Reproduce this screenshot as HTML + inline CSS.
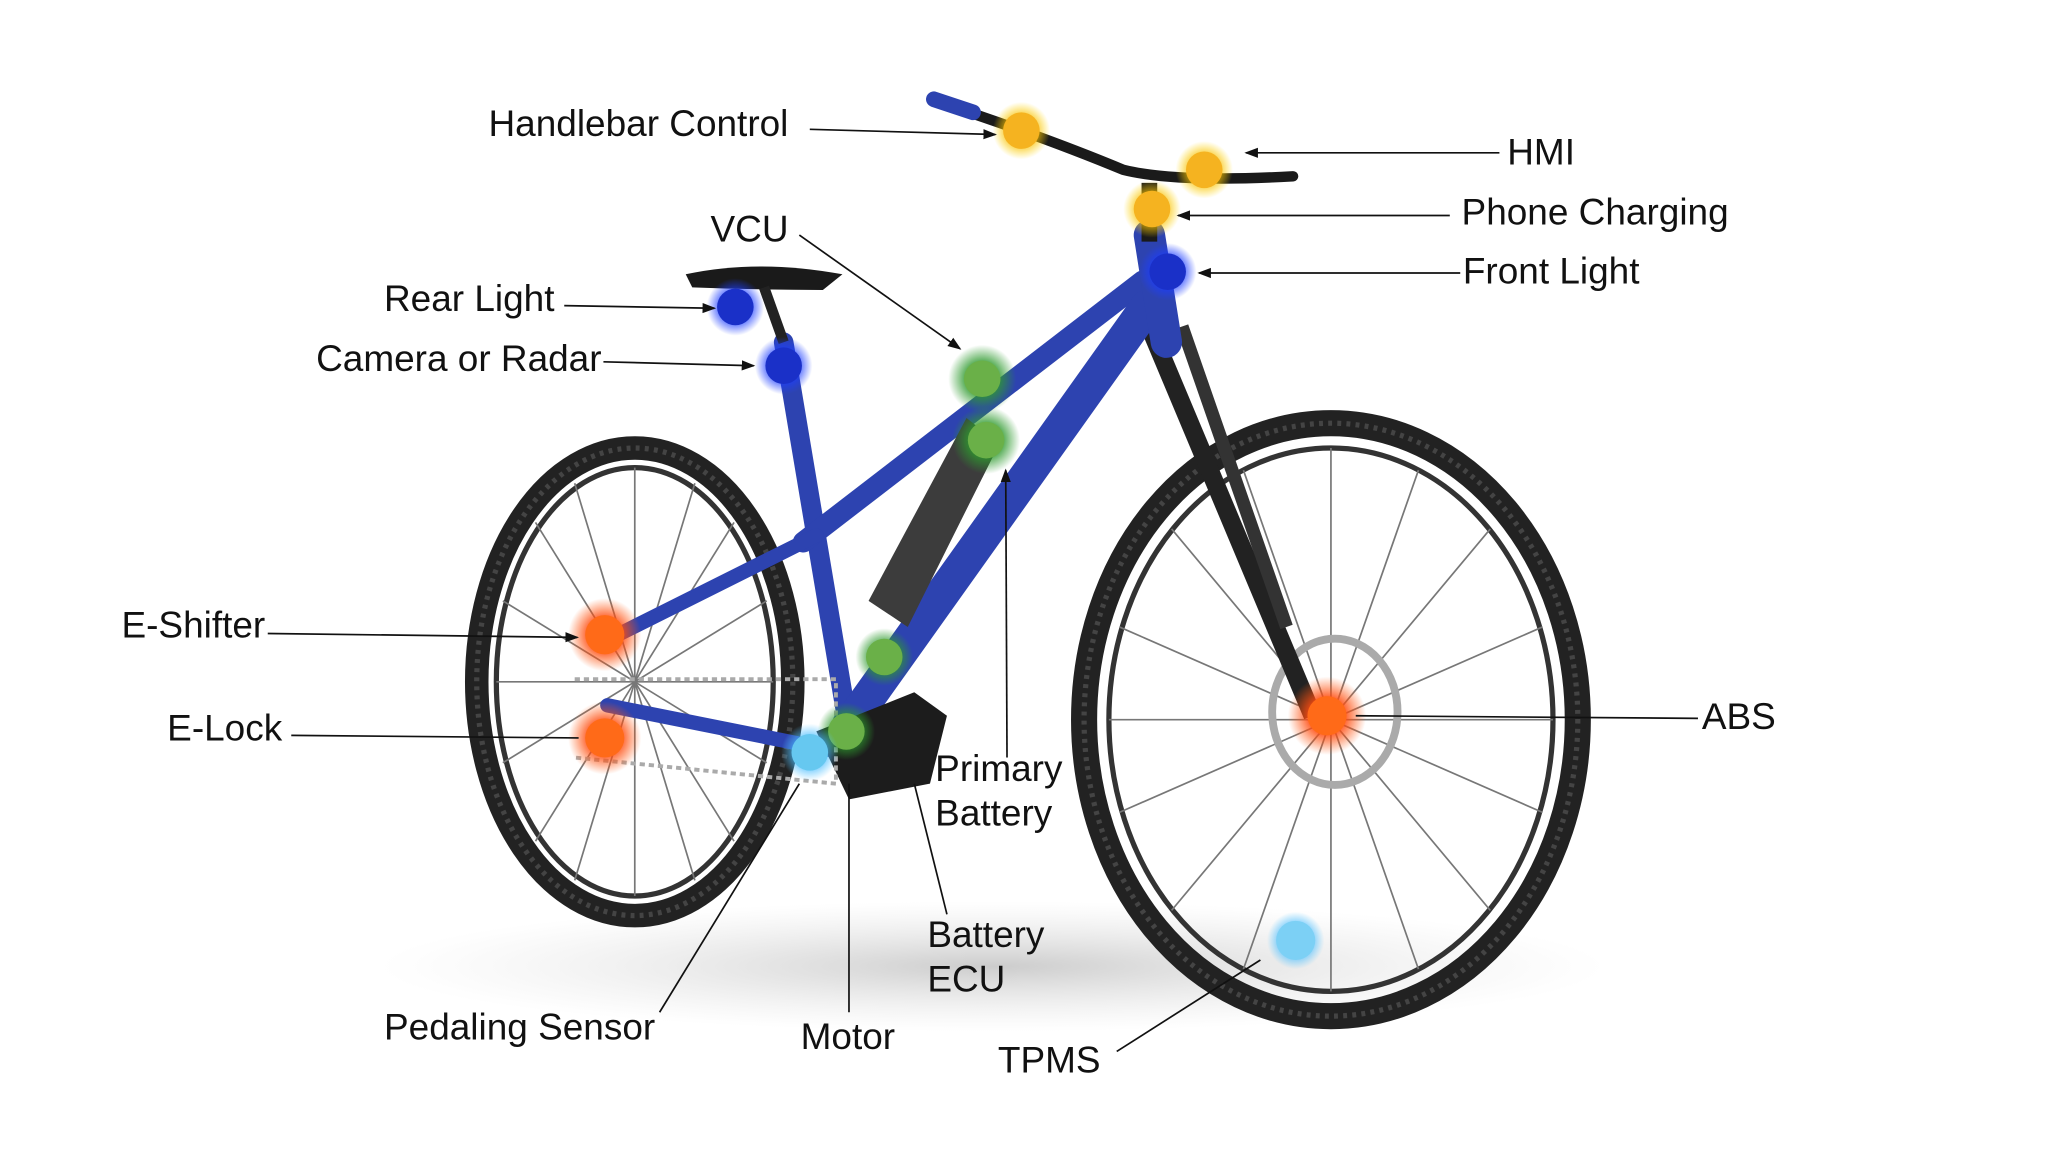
<!DOCTYPE html>
<html><head><meta charset="utf-8"><style>
html,body{margin:0;padding:0;background:#fff;width:2048px;height:1152px;overflow:hidden}
svg{display:block}
text{font-family:"Liberation Sans",Arial,sans-serif;font-size:28.3px;fill:#111}
</style></head><body>
<svg width="2048" height="1152" viewBox="0 0 1568 882" preserveAspectRatio="none">
<defs>
<radialGradient id="gy"><stop offset="0.45" stop-color="#f5b800" stop-opacity="0.9"/><stop offset="1" stop-color="#ffd800" stop-opacity="0"/></radialGradient>
<radialGradient id="gb"><stop offset="0.45" stop-color="#1a3cff" stop-opacity="0.9"/><stop offset="1" stop-color="#2040ff" stop-opacity="0"/></radialGradient>
<radialGradient id="gg"><stop offset="0.45" stop-color="#2e9a2e" stop-opacity="0.9"/><stop offset="1" stop-color="#2e9a2e" stop-opacity="0"/></radialGradient>
<radialGradient id="go"><stop offset="0.45" stop-color="#ff4a10" stop-opacity="0.9"/><stop offset="1" stop-color="#ff5a10" stop-opacity="0"/></radialGradient>
<radialGradient id="gc"><stop offset="0.45" stop-color="#40b8ff" stop-opacity="0.9"/><stop offset="1" stop-color="#60c8ff" stop-opacity="0"/></radialGradient>
<radialGradient id="sh"><stop offset="0" stop-color="#999" stop-opacity="0.5"/><stop offset="1" stop-color="#ccc" stop-opacity="0"/></radialGradient>
<marker id="a" markerWidth="8" markerHeight="8" refX="7" refY="4" orient="auto"><path d="M0,1 L8,4 L0,7 z" fill="#111"/></marker>
</defs>
<ellipse cx="760" cy="740" rx="470" ry="50" fill="url(#sh)"/>
<ellipse cx="486" cy="522" rx="121" ry="179" fill="none" stroke="#222" stroke-width="18"/>
<ellipse cx="486" cy="522" rx="121" ry="179" fill="none" stroke="#444" stroke-width="4" stroke-dasharray="3 4"/>
<ellipse cx="486" cy="522" rx="106" ry="164" fill="none" stroke="#333" stroke-width="4"/>
<g stroke="#777" stroke-width="1.3">
<line x1="486" y1="358" x2="486" y2="686"/><line x1="380" y1="522" x2="592" y2="522"/>
<line x1="410" y1="400" x2="562" y2="644"/><line x1="562" y1="400" x2="410" y2="644"/>
<line x1="440" y1="370" x2="532" y2="674"/><line x1="532" y1="370" x2="440" y2="674"/>
<line x1="385" y1="460" x2="587" y2="584"/><line x1="587" y1="460" x2="385" y2="584"/>
</g>
<ellipse cx="1019" cy="551" rx="189" ry="227" fill="none" stroke="#222" stroke-width="20"/>
<ellipse cx="1019" cy="551" rx="189" ry="227" fill="none" stroke="#444" stroke-width="4" stroke-dasharray="3 4"/>
<ellipse cx="1019" cy="551" rx="170" ry="208" fill="none" stroke="#333" stroke-width="4"/>
<g stroke="#777" stroke-width="1.3">
<line x1="1019" y1="343" x2="1019" y2="759"/><line x1="849" y1="551" x2="1189" y2="551"/>
<line x1="897" y1="405" x2="1141" y2="697"/><line x1="1141" y1="405" x2="897" y2="697"/>
<line x1="952" y1="360" x2="1086" y2="742"/><line x1="1086" y1="360" x2="952" y2="742"/>
<line x1="857" y1="480" x2="1181" y2="622"/><line x1="1181" y1="480" x2="857" y2="622"/>
</g>
<ellipse cx="1022" cy="545" rx="48" ry="56" fill="none" stroke="#aaa" stroke-width="6"/>
<line x1="880" y1="250" x2="1005" y2="548" stroke="#222" stroke-width="14"/>
<line x1="905" y1="250" x2="985" y2="480" stroke="#333" stroke-width="10"/>
<g stroke="#2d43b0" stroke-linecap="round" fill="none">
<path d="M600,262 L650,560" stroke-width="15"/>
<path d="M615,415 L875,215" stroke-width="16"/>
<path d="M650,555 L878,235" stroke-width="26"/>
<path d="M880,180 L893,262" stroke-width="24"/>
<path d="M465,490 L625,410" stroke-width="11"/>
<path d="M465,540 L640,575" stroke-width="11"/>
</g>
<path d="M665,460 L740,320 L765,340 L695,480 z" fill="#3c3c3c"/>
<path d="M625,560 L700,530 L725,548 L712,600 L650,612 z" fill="#1c1c1c"/>
<path d="M440,520 L640,520 L640,600 L440,580" fill="none" stroke="#aaa" stroke-width="3" stroke-dasharray="4 3"/>
<path d="M525,210 Q580,198 645,210 L630,222 Q580,222 530,220 z" fill="#1a1a1a"/>
<line x1="585" y1="220" x2="600" y2="262" stroke="#222" stroke-width="8"/>
<path d="M718,78 Q800,105 860,130 Q900,140 990,135" fill="none" stroke="#1a1a1a" stroke-width="8" stroke-linecap="round"/>
<line x1="715" y1="76" x2="745" y2="86" stroke="#2d43b0" stroke-width="12" stroke-linecap="round"/>
<line x1="880" y1="140" x2="880" y2="185" stroke="#1a1a1a" stroke-width="12"/>
<g>
<circle cx="782" cy="100" r="22" fill="url(#gy)"/><circle cx="782" cy="100" r="14" fill="#f5b320"/>
<circle cx="922" cy="130" r="22" fill="url(#gy)"/><circle cx="922" cy="130" r="14" fill="#f5b320"/>
<circle cx="882" cy="160" r="22" fill="url(#gy)"/><circle cx="882" cy="160" r="14" fill="#f5b320"/>
<circle cx="894" cy="208" r="22" fill="url(#gb)"/><circle cx="894" cy="208" r="14" fill="#1a30c8"/>
<circle cx="563" cy="235" r="22" fill="url(#gb)"/><circle cx="563" cy="235" r="14" fill="#1a30c8"/>
<circle cx="600" cy="280" r="22" fill="url(#gb)"/><circle cx="600" cy="280" r="14" fill="#1a30c8"/>
<circle cx="752" cy="290" r="26" fill="url(#gg)"/><circle cx="752" cy="290" r="14" fill="#6ab048"/>
<circle cx="755" cy="337" r="26" fill="url(#gg)"/><circle cx="755" cy="337" r="14" fill="#6ab048"/>
<circle cx="677" cy="503" r="22" fill="url(#gg)"/><circle cx="677" cy="503" r="14" fill="#6ab048"/>
<circle cx="648" cy="560" r="22" fill="url(#gg)"/><circle cx="648" cy="560" r="14" fill="#6ab048"/>
<circle cx="620" cy="576" r="22" fill="url(#gc)"/><circle cx="620" cy="576" r="14" fill="#66c8f0"/>
<circle cx="463" cy="486" r="28" fill="url(#go)"/><circle cx="463" cy="486" r="15" fill="#ff6a18"/>
<circle cx="463" cy="565" r="28" fill="url(#go)"/><circle cx="463" cy="565" r="15" fill="#ff6a18"/>
<circle cx="1016" cy="548" r="30" fill="url(#go)"/><circle cx="1016" cy="548" r="15" fill="#ff6a18"/>
<circle cx="992" cy="720" r="22" fill="url(#gc)"/><circle cx="992" cy="720" r="15" fill="#7cd0f5"/>
</g>
<g stroke="#111" stroke-width="1.3" fill="none">
<line x1="620" y1="99" x2="762" y2="103" marker-end="url(#a)"/>
<line x1="1148" y1="117" x2="954" y2="117" marker-end="url(#a)"/>
<line x1="1110" y1="165" x2="902" y2="165" marker-end="url(#a)"/>
<line x1="1118" y1="209" x2="918" y2="209" marker-end="url(#a)"/>
<line x1="612" y1="180" x2="735" y2="267" marker-end="url(#a)"/>
<line x1="432" y1="234" x2="547" y2="236" marker-end="url(#a)"/>
<line x1="462" y1="277" x2="577" y2="280" marker-end="url(#a)"/>
<line x1="205" y1="485" x2="442" y2="488" marker-end="url(#a)"/>
<line x1="223" y1="563" x2="443" y2="565"/>
<line x1="771" y1="580" x2="770" y2="360" marker-end="url(#a)"/>
<line x1="1300" y1="550" x2="1038" y2="548"/>
<line x1="725" y1="700" x2="700" y2="600"/>
<line x1="650" y1="775" x2="650" y2="600"/>
<line x1="505" y1="775" x2="612" y2="600"/>
<line x1="855" y1="805" x2="965" y2="735"/>
</g>
<text x="374" y="104">Handlebar Control</text>
<text x="1154" y="126">HMI</text>
<text x="1119" y="172">Phone Charging</text>
<text x="1120" y="217">Front Light</text>
<text x="544" y="185">VCU</text>
<text x="294" y="238">Rear Light</text>
<text x="242" y="284">Camera or Radar</text>
<text x="93" y="488">E-Shifter</text>
<text x="128" y="567">E-Lock</text>
<text x="716" y="598">Primary</text>
<text x="716" y="632">Battery</text>
<text x="1303" y="558">ABS</text>
<text x="710" y="725">Battery</text>
<text x="710" y="759">ECU</text>
<text x="294" y="796">Pedaling Sensor</text>
<text x="613" y="803">Motor</text>
<text x="764" y="821">TPMS</text>
</svg>
</body></html>
